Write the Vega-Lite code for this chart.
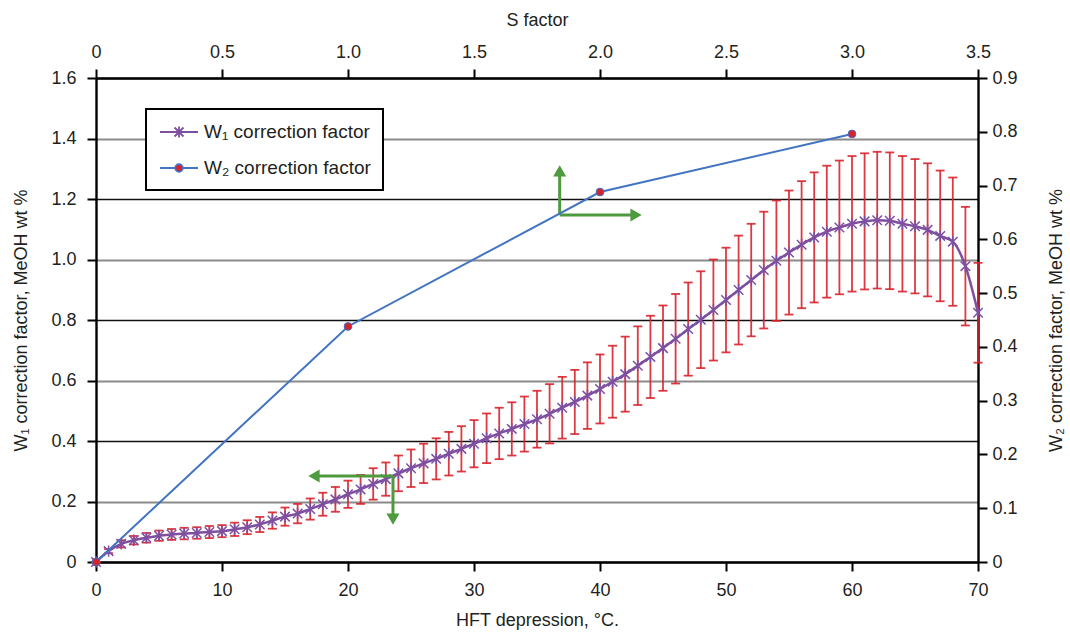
{
  "$schema": "https://vega.github.io/schema/vega-lite/v6.json",
  "width": 882,
  "height": 484,
  "autosize": "none",
  "padding": {"left": 96, "top": 78, "right": 92, "bottom": 71},
  "background": "#ffffff",
  "datasets": {
    "w1": [
      {"h": 0, "w": 0, "lo": 0, "hi": 0},
      {"h": 1, "w": 0.036, "lo": 0.029, "hi": 0.043},
      {"h": 2, "w": 0.060, "lo": 0.048, "hi": 0.072},
      {"h": 3, "w": 0.072, "lo": 0.058, "hi": 0.086},
      {"h": 4, "w": 0.080, "lo": 0.064, "hi": 0.096},
      {"h": 5, "w": 0.087, "lo": 0.070, "hi": 0.104},
      {"h": 6, "w": 0.091, "lo": 0.073, "hi": 0.109},
      {"h": 7, "w": 0.094, "lo": 0.075, "hi": 0.113},
      {"h": 8, "w": 0.096, "lo": 0.077, "hi": 0.115},
      {"h": 9, "w": 0.099, "lo": 0.079, "hi": 0.119},
      {"h": 10, "w": 0.102, "lo": 0.082, "hi": 0.122},
      {"h": 11, "w": 0.108, "lo": 0.086, "hi": 0.130},
      {"h": 12, "w": 0.115, "lo": 0.092, "hi": 0.138},
      {"h": 13, "w": 0.124, "lo": 0.099, "hi": 0.149},
      {"h": 14, "w": 0.137, "lo": 0.110, "hi": 0.164},
      {"h": 15, "w": 0.150, "lo": 0.120, "hi": 0.180},
      {"h": 16, "w": 0.160, "lo": 0.128, "hi": 0.192},
      {"h": 17, "w": 0.175, "lo": 0.140, "hi": 0.210},
      {"h": 18, "w": 0.191, "lo": 0.153, "hi": 0.229},
      {"h": 19, "w": 0.207, "lo": 0.166, "hi": 0.248},
      {"h": 20, "w": 0.224, "lo": 0.179, "hi": 0.269},
      {"h": 21, "w": 0.240, "lo": 0.192, "hi": 0.288},
      {"h": 22, "w": 0.258, "lo": 0.206, "hi": 0.310},
      {"h": 23, "w": 0.274, "lo": 0.219, "hi": 0.329},
      {"h": 24, "w": 0.293, "lo": 0.234, "hi": 0.352},
      {"h": 25, "w": 0.310, "lo": 0.248, "hi": 0.372},
      {"h": 26, "w": 0.326, "lo": 0.261, "hi": 0.391},
      {"h": 27, "w": 0.341, "lo": 0.273, "hi": 0.409},
      {"h": 28, "w": 0.358, "lo": 0.286, "hi": 0.430},
      {"h": 29, "w": 0.374, "lo": 0.299, "hi": 0.449},
      {"h": 30, "w": 0.391, "lo": 0.313, "hi": 0.469},
      {"h": 31, "w": 0.409, "lo": 0.327, "hi": 0.491},
      {"h": 32, "w": 0.425, "lo": 0.340, "hi": 0.510},
      {"h": 33, "w": 0.440, "lo": 0.352, "hi": 0.528},
      {"h": 34, "w": 0.456, "lo": 0.365, "hi": 0.547},
      {"h": 35, "w": 0.472, "lo": 0.378, "hi": 0.566},
      {"h": 36, "w": 0.490, "lo": 0.392, "hi": 0.588},
      {"h": 37, "w": 0.510, "lo": 0.408, "hi": 0.612},
      {"h": 38, "w": 0.529, "lo": 0.423, "hi": 0.635},
      {"h": 39, "w": 0.550, "lo": 0.440, "hi": 0.660},
      {"h": 40, "w": 0.572, "lo": 0.458, "hi": 0.686},
      {"h": 41, "w": 0.596, "lo": 0.477, "hi": 0.715},
      {"h": 42, "w": 0.621, "lo": 0.497, "hi": 0.745},
      {"h": 43, "w": 0.649, "lo": 0.519, "hi": 0.779},
      {"h": 44, "w": 0.678, "lo": 0.542, "hi": 0.814},
      {"h": 45, "w": 0.707, "lo": 0.566, "hi": 0.848},
      {"h": 46, "w": 0.738, "lo": 0.590, "hi": 0.886},
      {"h": 47, "w": 0.770, "lo": 0.616, "hi": 0.924},
      {"h": 48, "w": 0.801, "lo": 0.641, "hi": 0.961},
      {"h": 49, "w": 0.833, "lo": 0.666, "hi": 1.000},
      {"h": 50, "w": 0.866, "lo": 0.693, "hi": 1.039},
      {"h": 51, "w": 0.899, "lo": 0.719, "hi": 1.079},
      {"h": 52, "w": 0.932, "lo": 0.746, "hi": 1.118},
      {"h": 53, "w": 0.965, "lo": 0.772, "hi": 1.158},
      {"h": 54, "w": 0.996, "lo": 0.797, "hi": 1.195},
      {"h": 55, "w": 1.023, "lo": 0.818, "hi": 1.228},
      {"h": 56, "w": 1.049, "lo": 0.839, "hi": 1.259},
      {"h": 57, "w": 1.073, "lo": 0.858, "hi": 1.288},
      {"h": 58, "w": 1.092, "lo": 0.874, "hi": 1.310},
      {"h": 59, "w": 1.106, "lo": 0.885, "hi": 1.327},
      {"h": 60, "w": 1.118, "lo": 0.894, "hi": 1.342},
      {"h": 61, "w": 1.126, "lo": 0.901, "hi": 1.351},
      {"h": 62, "w": 1.130, "lo": 0.904, "hi": 1.356},
      {"h": 63, "w": 1.128, "lo": 0.902, "hi": 1.354},
      {"h": 64, "w": 1.118, "lo": 0.894, "hi": 1.342},
      {"h": 65, "w": 1.110, "lo": 0.888, "hi": 1.332},
      {"h": 66, "w": 1.098, "lo": 0.878, "hi": 1.318},
      {"h": 67, "w": 1.078, "lo": 0.862, "hi": 1.294},
      {"h": 68, "w": 1.059, "lo": 0.847, "hi": 1.271},
      {"h": 69, "w": 0.978, "lo": 0.782, "hi": 1.174},
      {"h": 70, "w": 0.824, "lo": 0.659, "hi": 0.989}
    ],
    "w2": [
      {"s": 0, "v": 0},
      {"s": 1, "v": 0.438},
      {"s": 2, "v": 0.688},
      {"s": 3, "v": 0.796}
    ],
    "arrows": [
      {"h": 36.8, "w": 1.147, "h2": 36.8, "w2": 1.293, "dir": "up"},
      {"h": 36.8, "w": 1.147, "h2": 42.86, "w2": 1.147, "dir": "right"},
      {"h": 23.57, "w": 0.284, "h2": 17.3, "w2": 0.284, "dir": "left"},
      {"h": 23.57, "w": 0.284, "h2": 23.57, "w2": 0.142, "dir": "down"}
    ]
  },
  "layer": [
    {
      "layer": [
        {
          "data": {"name": "w1"},
          "mark": {"type": "errorbar", "ticks": {"size": 9, "color": "#d8232e", "strokeWidth": 1.8}, "color": "#d8232e", "thickness": 1.8, "opacity": 0.9},
          "encoding": {
            "x": {"field": "h", "type": "quantitative", "scale": {"domain": [0, 70], "nice": false, "zero": false},
                  "axis": {"orient": "bottom", "title": "HFT depression, \u00b0C.", "values": [0, 10, 20, 30, 40, 50, 60, 70], "labelPadding": 10, "titlePadding": 12}},
            "y": {"field": "lo", "type": "quantitative", "scale": {"domain": [0, 1.6], "nice": false, "zero": false},
                  "axis": {"orient": "left", "title": "W\u2081 correction factor, MeOH wt %", "values": [0, 0.2, 0.4, 0.6, 0.8, 1.0, 1.2, 1.4, 1.6],
                           "labelExpr": "datum.value === 0 ? '0' : format(datum.value, '.1f')", "labelPadding": 11, "titlePadding": 20,
                           "grid": true,
                           "gridColor": {"condition": {"test": "round(datum.value * 10) % 4 === 0", "value": "#111111"}, "value": "#8a8a8a"},
                           "gridWidth": {"condition": {"test": "round(datum.value * 10) % 4 === 0", "value": 1.3}, "value": 2}}},
            "y2": {"field": "hi"}
          }
        },
        {
          "data": {"name": "w1"},
          "mark": {"type": "line", "interpolate": "monotone", "strokeWidth": 2.5},
          "encoding": {
            "x": {"field": "h", "type": "quantitative"},
            "y": {"field": "w", "type": "quantitative"},
            "color": {"datum": "W\u2081 correction factor", "type": "nominal",
                      "scale": {"domain": ["W\u2081 correction factor", "W\u2082 correction factor"], "range": ["#7e4fa1", "#4274c1"]},
                      "legend": {
                        "orient": "none", "legendX": 50, "legendY": 31, "title": null, "direction": "vertical",
                        "fillColor": "#ffffff", "strokeColor": "#000000", "padding": 12,
                        "labelFontSize": 19, "labelColor": "#231f20", "labelFont": "Liberation Sans", "labelLimit": 400,
                        "symbolSize": 400, "symbolStrokeWidth": 1.8, "labelOffset": 24, "rowPadding": 15,
                        "encode": {
                          "legend": {"update": {"strokeWidth": {"value": 2}}},
                          "symbols": {"update": {
                            "shape": {"signal": "datum.index === 0 ? 'M-0.9,0L2.9,0M0.55,-0.45L1.45,0.45M0.55,0.45L1.45,-0.45M1,-0.55L1,0.55' : 'M-0.9,0L0.62,0M1.38,0L2.9,0M1.38,0A0.38,0.38,0,1,1,0.62,0A0.38,0.38,0,1,1,1.38,0Z'"},
                            "fill": {"signal": "datum.index === 0 ? 'transparent' : '#d8232e'"},
                            "opacity": {"value": 1}
                          }}
                        }
                      }}
          }
        },
        {
          "data": {"name": "w1"},
          "mark": {"type": "point", "shape": "M-1,-1L1,1M-1,1L1,-1M0,-1.2L0,1.2", "filled": false, "size": 90, "strokeWidth": 1.5, "color": "#7e4fa1", "opacity": 1},
          "encoding": {
            "x": {"field": "h", "type": "quantitative"},
            "y": {"field": "w", "type": "quantitative"}
          }
        },
        {
          "data": {"name": "arrows"},
          "mark": {"type": "rule", "color": "#4e9a3e", "strokeWidth": 3},
          "encoding": {
            "x": {"field": "h", "type": "quantitative"},
            "y": {"field": "w", "type": "quantitative"},
            "x2": {"field": "h2"},
            "y2": {"field": "w2"}
          }
        },
        {
          "data": {"name": "arrows"},
          "mark": {"type": "point", "filled": true, "size": 170, "color": "#4e9a3e", "opacity": 1},
          "encoding": {
            "x": {"field": "h2", "type": "quantitative"},
            "y": {"field": "w2", "type": "quantitative"},
            "shape": {"field": "dir", "type": "nominal", "legend": null,
                      "scale": {"domain": ["up", "right", "left", "down"], "range": ["triangle-up", "triangle-right", "triangle-left", "triangle-down"]}}
          }
        }
      ]
    },
    {
      "data": {"name": "w2"},
      "layer": [
        {
          "mark": {"type": "line", "strokeWidth": 2},
          "encoding": {
            "x": {"field": "s", "type": "quantitative", "scale": {"domain": [0, 3.5], "nice": false, "zero": false},
                  "axis": {"orient": "top", "title": "S factor", "values": [0, 0.5, 1, 1.5, 2, 2.5, 3, 3.5],
                           "labelExpr": "datum.value === 0 ? '0' : format(datum.value, '.1f')", "titlePadding": 14}},
            "y": {"field": "v", "type": "quantitative", "scale": {"domain": [0, 0.9], "nice": false, "zero": false},
                  "axis": {"orient": "right", "title": "W\u2082 correction factor, MeOH wt %", "values": [0, 0.1, 0.2, 0.3, 0.4, 0.5, 0.6, 0.7, 0.8, 0.9],
                           "labelExpr": "datum.value === 0 ? '0' : format(datum.value, '.1f')", "titlePadding": 30, "titleAngle": -90, "titleBaseline": "top", "labelPadding": 5}},
            "color": {"datum": "W\u2082 correction factor", "type": "nominal", "legend": null}
          }
        },
        {
          "mark": {"type": "point", "filled": true, "size": 60, "fill": "#d8232e", "stroke": "#3f6fbf", "strokeWidth": 1, "opacity": 1},
          "encoding": {
            "x": {"field": "s", "type": "quantitative"},
            "y": {"field": "v", "type": "quantitative"}
          }
        }
      ]
    }
  ],
  "resolve": {"scale": {"x": "independent", "y": "independent"}},
  "config": {
    "font": "Liberation Sans",
    "view": {"stroke": null},
    "axis": {
      "domainColor": "#000000", "domainWidth": 2.4, "tickColor": "#000000", "tickWidth": 2, "tickSize": 9,
      "labelFontSize": 18, "labelColor": "#231f20", "labelPadding": 8, "labelFlush": false, "labelOverlap": false,
      "titleFontSize": 18, "titleFontWeight": "normal", "titleColor": "#231f20", "grid": false
    }
  }
}
